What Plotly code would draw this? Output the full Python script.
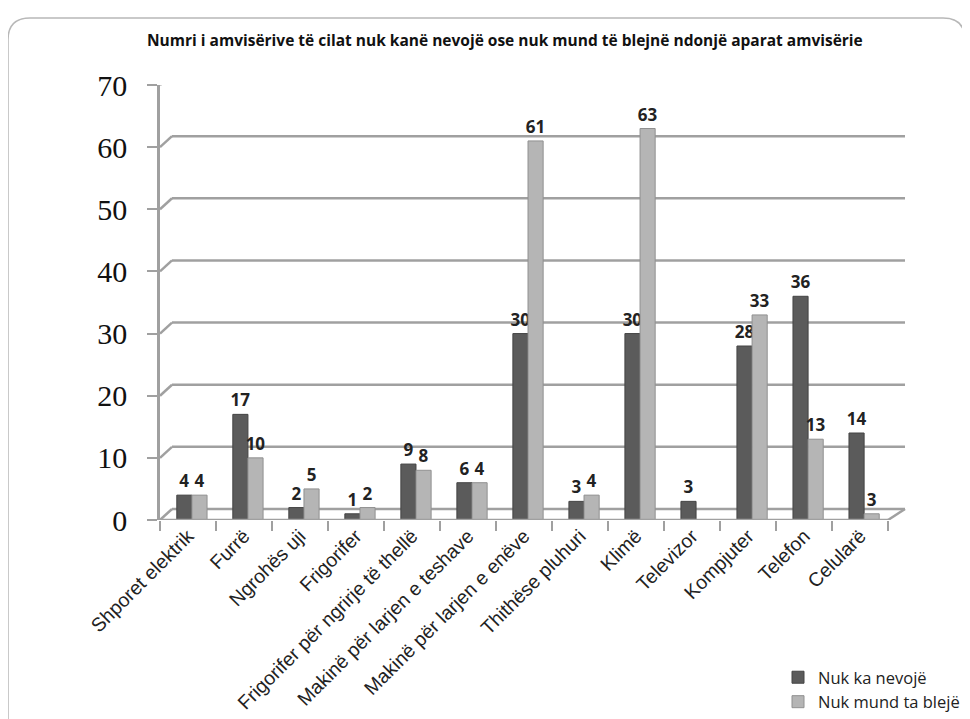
import plotly.graph_objects as go

categories = ["Shporet elektrik", "Furrë", "Ngrohës uji", "Frigorifer",
              "Frigorifer për ngrirje të thellë", "Makinë për larjen e teshave",
              "Makinë për larjen e enëve", "Thithëse pluhuri", "Klimë",
              "Televizor", "Kompjuter", "Telefon", "Celularë"]
nuk_ka_nevoje = [4, 17, 2, 1, 9, 6, 30, 3, 30, 3, 28, 36, 14]
nuk_mund_bleje = [4, 10, 5, 2, 8, 6, 61, 4, 63, None, 33, 13, 1]
nuk_mund_labels = ["4", "10", "5", "2", "8", "4", "61", "4", "63", "", "33", "13", "3"]
y_ticks = [0, 10, 20, 30, 40, 50, 60, 70]

# page is rendered with an 8px body margin -> work in figure pixel coords
W, H = 970, 719
L, R, T, B = 152, 73, 77, 207
PW, PH = W - L - R, H - T - B
Y_MAX = 70

def px(x):
    return (x - L) / PW

def py(y):
    return (H - B - y) / PH

GRID = "#a0a0a0"
DX = 12            # 3D depth offset in px (horizontal)
DY = 11            # 3D depth offset in px (vertical)
dx_p = DX / PW
dy_d = DY / PH * Y_MAX
front_end = px(880)   # end of front floor edge

BW = 0.27
SHIFT = 0.07

fig = go.Figure()
fig.add_trace(go.Bar(
    x=categories, y=nuk_ka_nevoje, name="Nuk ka nevojë",
    width=BW, offset=-BW + SHIFT,
    marker=dict(color="#5b5b5b", line=dict(color="#444444", width=1)),
    text=[str(v) for v in nuk_ka_nevoje], textposition="outside",
    constraintext="none",
    textfont=dict(family="Open Sans", size=17, color="#222222", weight="bold"),
    cliponaxis=False,
))
fig.add_trace(go.Bar(
    x=categories, y=nuk_mund_bleje, name="Nuk mund ta blejë",
    width=BW, offset=SHIFT,
    marker=dict(color="#b5b5b5", line=dict(color="#909090", width=1)),
    text=nuk_mund_labels, textposition="outside",
    constraintext="none",
    textfont=dict(family="Open Sans", size=17, color="#222222", weight="bold"),
    cliponaxis=False,
))

# back-wall gridlines with slanted connectors (3D look)
for v in y_ticks:
    fig.add_shape(type="line", xref="paper", yref="y",
                  x0=0, y0=v, x1=dx_p, y1=v + dy_d,
                  line=dict(color=GRID, width=2.5), layer="below")
    fig.add_shape(type="line", xref="paper", yref="y",
                  x0=dx_p, y0=v + dy_d, x1=1, y1=v + dy_d,
                  line=dict(color=GRID, width=2.5), layer="below")
# floor front edge slant at right end
fig.add_shape(type="line", xref="paper", yref="y",
              x0=front_end, y0=0, x1=1, y1=dy_d,
              line=dict(color=GRID, width=2.5), layer="below")

# rounded outer border
r = 22
x0, y0, x1, y1 = px(0), py(10), px(957), py(740)
rx, ry = r / PW, r / PH
path = (f"M {x0+rx},{y0} L {x1-rx},{y0} Q {x1},{y0} {x1},{y0-ry} "
        f"L {x1},{y1} L {x0},{y1} L {x0},{y0-ry} Q {x0},{y0} {x0+rx},{y0} Z")
fig.add_shape(type="path", path=path, xref="paper", yref="paper",
              line=dict(color="#b8b8b8", width=1.5), layer="below")

fig.add_annotation(
    text="<b>Numri i amvisërive të cilat nuk kanë nevojë ose nuk mund të blejnë ndonjë aparat amvisërie</b>",
    x=px(497), y=py(32), xref="paper", yref="paper", showarrow=False,
    font=dict(family="Open Sans", size=15.5, color="#111111"),
    xanchor="center", yanchor="middle")

fig.update_layout(
    width=W, height=H,
    margin=dict(l=L, r=R, t=T, b=B, pad=0, autoexpand=False),
    paper_bgcolor="white", plot_bgcolor="white",
    barmode="group",
    showlegend=True,
    legend=dict(x=770 / W, y=1 - 652 / H, xref="container", yref="container",
                xanchor="left", yanchor="top",
                font=dict(family="Open Sans", size=16.5, color="#222222"),
                tracegroupgap=0, itemwidth=30),
    xaxis=dict(range=[-0.5, 12.8], tickangle=-45, automargin=False,
               tickson="boundaries",
               tickfont=dict(family="Liberation Sans", size=19.5, color="#222222"),
               showline=False,
               ticks="outside", ticklen=10, tickcolor=GRID, tickwidth=2,
               showgrid=False, zeroline=False),
    yaxis=dict(range=[0, Y_MAX], tickvals=y_ticks, automargin=False,
               tickfont=dict(family="Liberation Serif", size=30, color="#111111"),
               ticklabelstandoff=14,
               showline=True, linecolor=GRID, linewidth=2.5,
               ticks="outside", ticklen=10, tickcolor=GRID, tickwidth=2,
               showgrid=False, zeroline=False),
)
# front floor edge
fig.add_shape(type="line", xref="paper", yref="y",
              x0=0, y0=0, x1=front_end, y1=0,
              line=dict(color=GRID, width=2.5), layer="above")

fig.write_html("out.html")
